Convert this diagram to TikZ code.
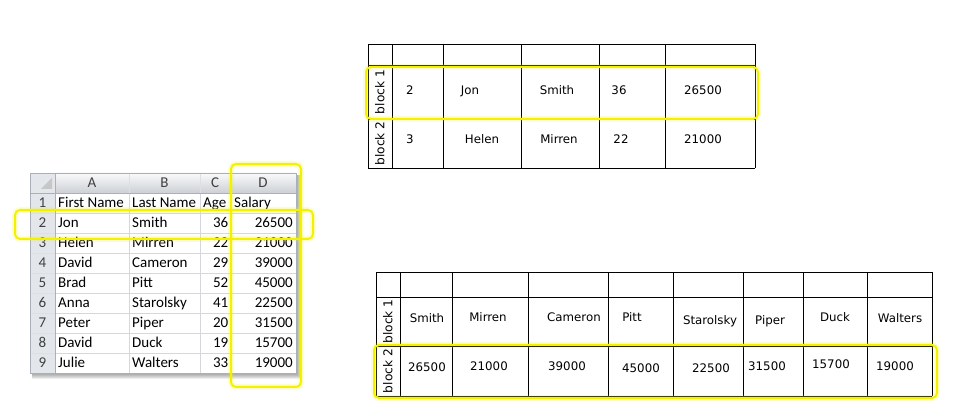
\documentclass[tikz,border=0pt]{standalone}
\usepackage{fontspec}
\setmainfont{DejaVu Sans}
\newfontfamily\xlfont{Carlito}
\definecolor{hlyellow}{HTML}{F2F200}
\definecolor{xlgrid}{HTML}{D4D8DE}
\definecolor{xlhead}{HTML}{E3E7EC}
\definecolor{xledge}{HTML}{A9B0BA}
\tikzset{%
  tline/.style={draw=black,line width=0.9pt},
  tcell/.style={inner sep=0,font=\fontsize{11.8}{13}\selectfont,text height=8.6pt,text depth=0pt},
  tblock/.style={tcell,rotate=90,font=\fontsize{12.2}{14}\selectfont},
  hlbox/.style={draw=hlyellow,line width=2pt,rounded corners=5pt},
  hlglow/.style={draw=hlyellow,line width=6pt,rounded corners=5pt,opacity=0.18},
  xcell/.style={inner sep=0,font=\xlfont\fontsize{15}{16}\selectfont,text height=9.5pt,text depth=0pt},
  xhead/.style={xcell,text=black!75}
}

\begin{document}
\begin{tikzpicture}[x=1pt,y=-1pt]
  \useasboundingbox (0,0) rectangle (954,419);
  % spreadsheet with its shadow
  \foreach \d in {1,...,6}
    \fill[black,opacity=0.07] (32,175) rectangle (296+\d,373+\d);
  \fill[white] (30,173) rectangle (296,373);
  \shade[top color=white!80!xlhead,bottom color=xlhead!90!black] (55,173) rectangle (296,193);
  \fill[xlhead] (30,173) rectangle (55,373);
  \fill[black!22] (52,178) -- (52,189) -- (41,189) -- cycle;
  \foreach \y in {213,233,...,353} \draw[xlgrid] (55,\y) -- (296,\y);
  \foreach \x in {129,200,230} \draw[xlgrid] (\x,193) -- (\x,373);
  \foreach \y in {213,233,...,353} \draw[white!60!xledge] (30,\y) -- (55,\y);
  \foreach \x in {129,200,230} \draw[white!60!xledge] (\x,173) -- (\x,193);
  \draw[xledge] (30,193) -- (296,193) (55,173) -- (55,373);
  \draw[xledge] (30,173) rectangle (296,373);
  \foreach \n/\x in {A/92,B/164.5,C/215,D/263}
    \node[xhead] (col\n) at (\x,183) {\n};
  \foreach \i in {1,...,9}
    \node[xhead] (row\i) at (42.5,183+20*\i) {\i};
  \path (58,203) node[xcell,anchor=west] (hfirst) {First Name}
        (132,203) node[xcell,anchor=west] (hlast) {Last Name}
        (203,203) node[xcell,anchor=west] (hage) {Age}
        (234,203) node[xcell,anchor=west] (hsal) {Salary};
  \foreach \i/\f/\l/\a/\s in {2/Jon/Smith/36/26500,3/Helen/Mirren/22/21000,
      4/David/Cameron/29/39000,5/Brad/Pitt/52/45000,6/Anna/Starolsky/41/22500,
      7/Peter/Piper/20/31500,8/David/Duck/19/15700,9/Julie/Walters/33/19000}
    \path (58,183+20*\i) node[xcell,anchor=west] (first\i) {\f}
          (132,183+20*\i) node[xcell,anchor=west] (last\i) {\l}
          (228.5,183+20*\i) node[xcell,anchor=east] (age\i) {\a}
          (293,183+20*\i) node[xcell,anchor=east] (sal\i) {\s};
  \draw[hlglow] (231,164) rectangle (301,387);
  \draw[hlbox] (231,164) rectangle (301,387);
  \draw[hlglow] (15,210) rectangle (313,239);
  \draw[hlbox] (15,210) rectangle (313,239);

  % row blocks
  \foreach \x in {368,392,443,521,599,665,755} \draw[tline] (\x,44) -- (\x,168);
  \foreach \y in {44,65,119,168} \draw[tline] (368,\y) -- (755,\y);
  \path (380,92) node[tblock] (rb1) {block 1}
        (380,143.5) node[tblock] (rb2) {block 2};
  \foreach \x/\t [count=\k] in {410/2,470/Jon,557/Smith,619/36,703/26500}
    \node[tcell] (up\k) at (\x,90) {\t};
  \foreach \x/\t [count=\k] in {410/3,482/Helen,559/Mirren,621/22,703/21000}
    \node[tcell] (lo\k) at (\x,139) {\t};
  \draw[hlglow] (366,67) rectangle (758,119);
  \draw[hlbox] (366,67) rectangle (758,119);

  % column blocks
  \foreach \x in {376,400,452,528,608,673,743,803,867,932} \draw[tline] (\x,272) -- (\x,396);
  \foreach \y in {272,297,346,396} \draw[tline] (376,\y) -- (932,\y);
  \path (388,321.5) node[tblock] (cb1) {block 1}
        (388,371) node[tblock] (cb2) {block 2};
  \foreach \x/\y/\t [count=\k] in {427/318/Smith,488/317/Mirren,574/317/Cameron,632/317/Pitt,
      710/320/Starolsky,770/320/Piper,835/317/Duck,900/318/Walters}
    \node[tcell] (nm\k) at (\x,\y) {\t};
  \foreach \x/\y/\t [count=\k] in {427/367/26500,489/366/21000,567/366/39000,641/368/45000,
      711/368/22500,767/366/31500,831/364/15700,895/366/19000}
    \node[tcell] (sl\k) at (\x,\y) {\t};
  \draw[hlglow] (374,345) rectangle (937,398);
  \draw[hlbox] (374,345) rectangle (937,398);
\end{tikzpicture}
\end{document}
